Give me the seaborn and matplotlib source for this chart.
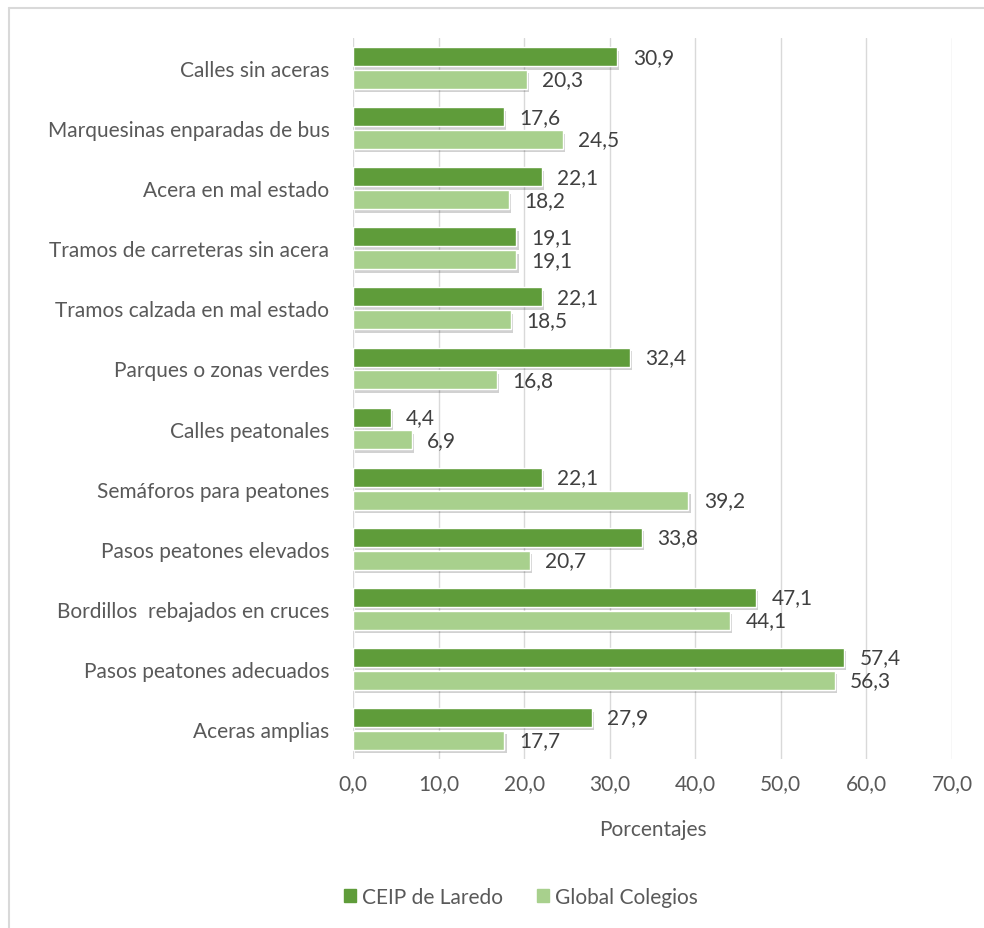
import numpy as np
import pandas as pd
import seaborn as sns
import matplotlib.pyplot as plt
import matplotlib.patheffects as pe
from matplotlib.lines import Line2D

categorias = [
    "Calles sin aceras",
    "Marquesinas enparadas de bus",
    "Acera en mal estado",
    "Tramos de carreteras sin acera",
    "Tramos calzada en mal estado",
    "Parques o zonas verdes",
    "Calles peatonales",
    "Semáforos para peatones",
    "Pasos peatones elevados",
    "Bordillos  rebajados en cruces",
    "Pasos peatones adecuados",
    "Aceras amplias",
]
ceip_laredo = [30.9, 17.6, 22.1, 19.1, 22.1, 32.4, 4.4, 22.1, 33.8, 47.1, 57.4, 27.9]
global_colegios = [20.3, 24.5, 18.2, 19.1, 18.5, 16.8, 6.9, 39.2, 20.7, 44.1, 56.3, 17.7]
series = ["CEIP de Laredo", "Global Colegios"]
x_ticks = [0, 10, 20, 30, 40, 50, 60, 70]

colores = {"CEIP de Laredo": "#5f9c3a", "Global Colegios": "#a8d08d"}

df = pd.DataFrame({
    "categoria": categorias * 2,
    "serie": [series[0]] * len(categorias) + [series[1]] * len(categorias),
    "valor": ceip_laredo + global_colegios,
})

sns.set_style("white")
plt.rcParams['font.family'] = ['Lato', 'DejaVu Sans']

fig = plt.figure(figsize=(9.84, 9.29), dpi=100)
ax = fig.add_axes([353 / 984, 1 - 760 / 929, (952 - 353) / 984, (760 - 39) / 929])

sns.barplot(data=df, y="categoria", x="valor", hue="serie", order=categorias,
            hue_order=series, palette=colores, orient="h", width=0.76, gap=0.17,
            ax=ax, legend=False, saturation=1)

# sombra suave como en Excel
shadow = [pe.SimplePatchShadow(offset=(1.5, -2.5), shadow_rgbFace="#000000", alpha=0.18), pe.Normal()]
for cont in ax.containers:
    for bar in cont:
        bar.set_path_effects(shadow)
    ax.bar_label(cont, labels=[f"{v:.1f}".replace(".", ",") for v in cont.datavalues],
                 padding=11, fontsize=15, color="#404040")

ax.set_xlim(0, 70)
ax.set_ylim(11.5, -0.5)
ax.set_xticks(x_ticks)
ax.set_xticklabels([f"{t:.1f}".replace(".", ",") for t in x_ticks])
ax.grid(axis="x", color="#d9d9d9", linewidth=1)
ax.set_axisbelow(True)
for s in ax.spines.values():
    s.set_visible(False)
ax.tick_params(axis="x", length=0, pad=10, labelsize=15, labelcolor="#595959")
ax.tick_params(axis="y", length=0, pad=17, labelsize=15, labelcolor="#595959")
ax.set_ylabel("")
ax.set_xlabel("Porcentajes", fontsize=15, color="#595959", labelpad=19)

# borde del área del gráfico (solo arriba e izquierda visibles)
fig.add_artist(Line2D([9 / 984, 1], [1 - 9 / 929, 1 - 9 / 929], color="#d9d9d9", lw=1.5))
fig.add_artist(Line2D([9 / 984, 9 / 984], [0, 1 - 9 / 929], color="#d9d9d9", lw=1.5))

handles = [plt.Rectangle((0, 0), 1, 1, color=colores[s]) for s in series]
fig.legend(handles, series, loc="center", bbox_to_anchor=(521 / 984, 1 - 898 / 929),
           ncol=2, frameon=False, fontsize=15, labelcolor="#595959",
           handlelength=0.6, handleheight=0.6, handletextpad=0.3, columnspacing=1.6)

fig.savefig("out.png", dpi=100)
